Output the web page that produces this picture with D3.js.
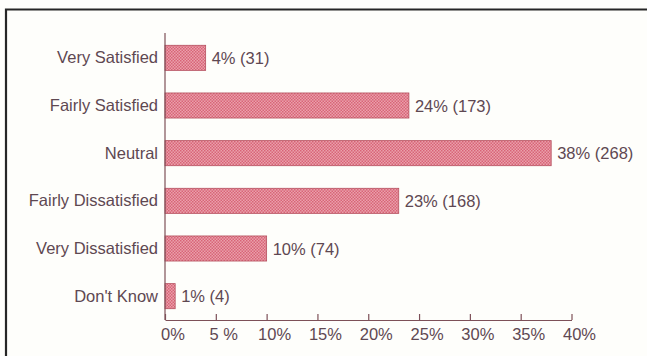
<!DOCTYPE html>
<html>
<head>
<meta charset="utf-8">
<script src="https://cdn.jsdelivr.net/npm/d3@7"></script>
<style>
  html, body { margin: 0; padding: 0; background: #fefefb; }
  svg { display: block; }
  text { font-family: "Liberation Sans", Arial, Helvetica, sans-serif; }
</style>
</head>
<body>
<svg id="chart" width="647" height="356"></svg>
<script>
// Survey responses: share of respondents (%) and counts
const categories = ["Very Satisfied", "Fairly Satisfied", "Neutral", "Fairly Dissatisfied", "Very Dissatisfied", "Don't Know"];
const percents = [4, 24, 38, 23, 10, 1];
const counts = [31, 173, 268, 168, 74, 4];
const tickValues = [0, 5, 10, 15, 20, 25, 30, 35, 40];
const tickLabels = ["0%", "5 %", "10%", "15%", "20%", "25%", "30%", "35%", "40%"];

const data = categories.map((c, i) => ({ cat: c, pct: percents[i], n: counts[i] }));

const svg = d3.select("#chart");
const textColor = "#5e4852";
const axisColor = "#7d5058";

// Frame around the figure
svg.append("path")
  .attr("d", "M6,356 L6,9.5 L647,9.5")
  .attr("fill", "none")
  .attr("stroke", "#262626")
  .attr("stroke-width", 2.2);

// Crosshatch fill for the bars
const defs = svg.append("defs");
const pat = defs.append("pattern")
  .attr("id", "hatch")
  .attr("patternUnits", "userSpaceOnUse")
  .attr("width", 3).attr("height", 3);
pat.append("rect").attr("width", 3).attr("height", 3).attr("fill", "#eaa0ab");
pat.append("rect").attr("x", 0).attr("y", 0).attr("width", 1.5).attr("height", 1.5).attr("fill", "#d86477");
pat.append("rect").attr("x", 1.5).attr("y", 1.5).attr("width", 1.5).attr("height", 1.5).attr("fill", "#d86477");

const x = d3.scaleLinear().domain([0, 40]).range([165, 571.5]);
const y = d3.scaleBand()
  .domain(categories)
  .range([34, 320])
  .paddingInner(0.474)
  .paddingOuter(0.237);

// Bars
svg.append("g").selectAll("rect")
  .data(data)
  .join("rect")
  .attr("x", x(0))
  .attr("y", d => y(d.cat))
  .attr("width", d => x(d.pct) - x(0))
  .attr("height", y.bandwidth())
  .attr("fill", "url(#hatch)")
  .attr("stroke", "#b5505f")
  .attr("stroke-width", 0.8);

// Value labels
svg.append("g").selectAll("text")
  .data(data)
  .join("text")
  .attr("x", d => x(d.pct) + 6)
  .attr("y", d => y(d.cat) + y.bandwidth() / 2 + 6)
  .attr("fill", textColor)
  .attr("font-size", 16.5)
  .text(d => `${d.pct}% (${d.n})`);

// Category labels
svg.append("g").selectAll("text")
  .data(data)
  .join("text")
  .attr("x", 158)
  .attr("y", d => y(d.cat) + y.bandwidth() / 2 + 5.5)
  .attr("text-anchor", "end")
  .attr("fill", textColor)
  .attr("font-size", 16.5)
  .text(d => d.cat);

// Vertical axis line
svg.append("line")
  .attr("x1", x(0)).attr("x2", x(0))
  .attr("y1", 33).attr("y2", 320)
  .attr("stroke", axisColor)
  .attr("stroke-width", 1.2);

// Horizontal axis with upward ticks
const xAxis = d3.axisBottom(x)
  .tickValues(tickValues)
  .tickSizeInner(-6)
  .tickSizeOuter(0)
  .tickFormat((d, i) => tickLabels[i]);

const gx = svg.append("g")
  .attr("transform", "translate(0,320)")
  .call(xAxis);
gx.select(".domain").attr("stroke", axisColor).attr("stroke-width", 1.2);
gx.selectAll(".tick line").attr("stroke", axisColor).attr("stroke-width", 1.2);
gx.selectAll(".tick text")
  .attr("fill", textColor)
  .attr("font-size", 16.5)
  .attr("font-family", "'Liberation Sans', Arial, sans-serif")
  .attr("y", 0)
  .attr("dy", 20)
  .attr("dx", 7.5);
</script>
</body>
</html>
